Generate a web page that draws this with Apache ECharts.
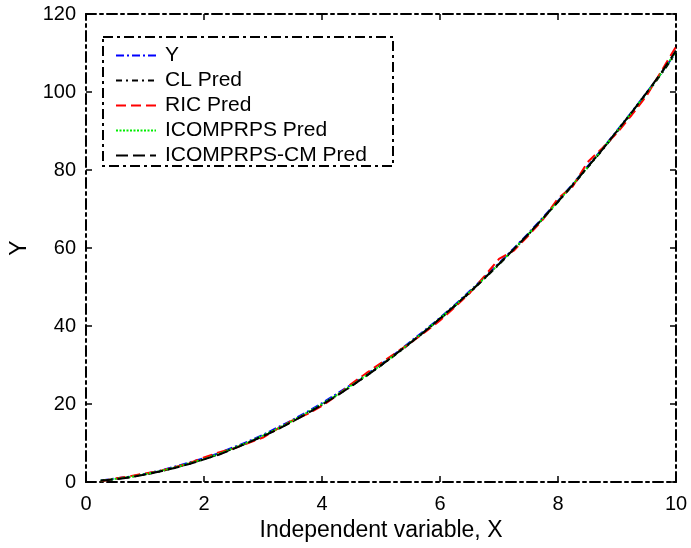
<!DOCTYPE html>
<html>
<head>
<meta charset="utf-8">
<script src="https://cdn.jsdelivr.net/npm/echarts@6/dist/echarts.min.js"></script>
<style>html,body{margin:0;padding:0;background:#fff}#c{width:691px;height:548px}</style>
</head>
<body>
<div id="c"></div>
<script>
const xs = [0.25,0.5,0.75,1,1.25,1.5,1.75,2,2.25,2.5,2.75,3,3.25,3.5,3.75,4,4.25,4.5,4.75,5,
            5.25,5.5,5.75,6,6.25,6.5,6.75,7,7.25,7.5,7.75,8,8.25,8.5,8.75,9,9.25,9.5,9.75,10];
const yTrue = [0.4,0.9,1.4,2.1,2.9,3.9,5.0,6.1,7.4,8.9,10.4,12.1,14.0,15.9,18.0,20.2,22.6,25.0,27.5,30.2,
               33.0,36.0,39.0,42.1,45.4,48.9,52.4,56.1,59.9,63.8,67.9,72.1,76.4,80.9,85.4,90.1,94.9,99.8,104.8,110.2];
const clPred = [0.3,0.8,1.3,1.9,2.7,3.6,4.7,5.8,7.1,8.6,10.1,11.8,13.6,15.5,17.6,19.8,22.2,24.6,27.2,29.9,
                32.7,35.6,38.7,41.8,45.1,48.5,52.1,55.8,59.6,63.5,67.6,71.8,76.1,80.6,85.1,89.8,94.6,99.5,104.6,110.0];
const ricPred = [0.2,0.9,1.5,2.2,2.8,3.8,4.8,6.3,7.6,8.6,10.0,11.4,13.7,15.8,17.4,19.5,22.1,25.2,27.9,30.5,
                 33.1,35.7,38.5,41.4,44.8,48.4,52.7,57.2,59.3,63.2,67.4,72.7,75.8,82.0,85.6,89.5,94.1,99.0,105.3,111.6];
const icompPred = [0.3,0.8,1.3,2.0,2.8,3.7,4.8,5.9,7.2,8.7,10.2,11.9,13.7,15.7,17.8,20.0,22.3,24.8,27.3,30.0,
                   32.8,35.8,38.8,42.0,45.2,48.7,52.2,55.9,59.7,63.6,67.7,71.9,76.3,80.7,85.3,90.0,94.8,99.7,104.8,110.4];
const icompCmPred = [0.3,0.7,1.2,1.9,2.7,3.6,4.6,5.8,7.0,8.5,10.1,11.7,13.5,15.5,17.6,19.8,22.1,24.6,27.2,29.9,
                     32.8,35.7,38.7,41.9,45.2,48.6,52.2,55.9,59.7,63.6,67.7,71.9,76.2,80.7,85.2,90.0,94.8,99.8,104.9,110.6];
const seriesNames = ['Y','CL Pred','RIC Pred','ICOMPRPS Pred','ICOMPRPS-CM Pred'];
const xTicks = [0,2,4,6,8,10];
const yTicks = [0,20,40,60,80,100,120];

const FONT = 'Liberation Sans, Arial, sans-serif';
const dashDot = [10,4,3,4];
const pairs = arr => xs.map((x,i)=>[x,arr[i]]);
const styles = [
  {color:'#0000ff', type:[8,3,2,3]},
  {color:'#000000', type:[6,4,2,4]},
  {color:'#ff0000', type:[10,5]},
  {color:'#00ee00', type:[2,1.5]},
  {color:'#000000', type:[12,5]}
];
const datasets = [yTrue, clPred, ricPred, icompPred, icompCmPred];

const axisCommon = {
  axisLine:{show:true, onZero:false, lineStyle:{color:'#000', width:2, type:dashDot}},
  axisTick:{show:true, inside:true, length:6, lineStyle:{color:'#000', width:1.5}},
  splitLine:{show:false}
};

const chart = echarts.init(document.getElementById('c'));
chart.setOption({
  backgroundColor:'#fff',
  animation:false,
  grid:{left:82, right:15, top:14, bottom:66},
  xAxis:[
    Object.assign({type:'value', min:0, max:10, interval:2, position:'bottom',
      name:'Independent variable, X', nameLocation:'middle', nameGap:27,
      nameTextStyle:{fontFamily:FONT, fontSize:23, color:'#000'},
      axisLabel:{fontFamily:FONT, fontSize:20, color:'#000', margin:12,
        formatter: v => xTicks.includes(v) ? String(v) : ''}}, axisCommon),
    Object.assign({type:'value', min:0, max:10, interval:2, position:'top',
      axisLabel:{show:false}}, axisCommon)
  ],
  yAxis:[
    Object.assign({type:'value', min:0, max:120, interval:20, position:'left',
      name:'Y', nameLocation:'middle', nameGap:55, nameRotate:90,
      nameTextStyle:{fontFamily:FONT, fontSize:23, color:'#000'},
      axisLabel:{fontFamily:FONT, fontSize:20, color:'#000', margin:10,
        formatter: v => yTicks.includes(v) ? String(v) : ''}}, axisCommon),
    Object.assign({type:'value', min:0, max:120, interval:20, position:'right',
      axisLabel:{show:false}}, axisCommon)
  ],
  legend:{
    orient:'vertical', left:110, top:40, itemWidth:40, itemHeight:14, itemGap:4,
    data:seriesNames,
    itemStyle:{opacity:0},
    textStyle:{fontFamily:FONT, fontSize:21, color:'#000', lineHeight:20, padding:[0,0,0,4]}
  },
  graphic:[{
    type:'rect', left:102, top:36, z:-1,
    shape:{width:290, height:129},
    style:{fill:'#fff', stroke:'#000', lineWidth:2, lineDash:dashDot}
  }],
  series: datasets.map((d,i)=>({
    name:seriesNames[i], type:'line', data:pairs(d), showSymbol:false, symbol:'none',
    smooth:false, z:2+i,
    lineStyle:{color:styles[i].color, width:2, type:styles[i].type},
    itemStyle:{color:styles[i].color}
  }))
});
</script>
</body>
</html>
